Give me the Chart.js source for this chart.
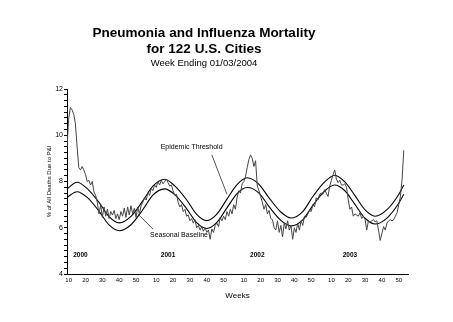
<!DOCTYPE html>
<html>
<head>
<title>Pneumonia and Influenza Mortality</title>
<script src="https://cdn.jsdelivr.net/npm/chart.js"></script>
<style>
  body { margin: 0; background: #fff; }
</style>
</head>
<body>
<canvas id="pniChart" width="453" height="322"></canvas>
<script>
// weekly % of deaths due to P&I, first point is week 9 of 2000
const firstWeek = 9;
const pniPercent = [
  9.5, 10.7, 11.2, 11.1, 10.9, 10.5, 9.5, 8.6, 8.5, 8.65, 8.5, 8.3, 8.0, 8.05, 7.85, 8.0, 7.55, 7.4,
  7.1, 6.6, 7.0, 6.45, 6.9, 6.5, 6.8, 6.4, 6.7, 6.55, 6.75, 6.4, 6.6, 6.35, 6.7, 6.5, 6.85, 6.45,
  6.9, 6.55, 6.95, 6.6, 6.85, 6.45, 6.9, 6.6,
  6.95, 7.1, 7.3, 7.2, 7.5, 7.4, 7.7, 7.6, 7.85, 7.75, 8.0, 7.85, 8.05, 7.9, 8.0, 8.1, 7.95, 7.8,
  7.85, 7.6, 7.4, 7.45, 7.1, 6.9, 7.0, 6.7, 6.8, 6.5, 6.55, 6.3, 6.4, 6.2, 6.35, 6.0, 6.1, 5.9,
  6.05, 5.85, 6.0, 5.8, 5.9, 5.5, 5.95, 5.8, 6.1, 6.2, 6.05, 6.45, 6.3, 6.5, 6.35, 6.7, 6.5, 6.8,
  6.6, 7.0, 6.8, 7.3, 7.6, 7.5, 7.9, 8.0, 8.2, 8.6, 8.95, 9.15, 9.0, 8.65, 8.9, 7.8, 7.6, 7.35,
  7.1, 6.8, 7.0, 6.6, 6.75, 6.4, 6.35, 6.0, 5.9, 6.3, 5.8, 6.1, 5.6, 6.2, 5.95, 6.3, 5.9, 6.1,
  5.5, 6.0, 5.8, 6.2, 5.9, 6.3, 6.1, 6.5, 6.45, 6.6, 6.75, 6.7, 7.0, 6.9, 7.3, 7.2, 7.45, 7.5,
  7.45, 7.65, 7.5, 7.35, 7.8, 8.05, 8.3, 8.5, 8.1, 7.95, 8.05, 7.85, 7.85, 7.9, 7.75, 7.2, 6.8, 6.9,
  6.5, 6.6, 6.55, 6.5, 6.65, 6.4, 6.5, 6.35, 5.9, 6.3, 6.25, 6.3, 6.35, 6.25, 6.3, 5.9, 5.45, 5.75,
  6.05, 5.9, 6.2, 6.3, 6.35, 6.3, 6.35, 6.5, 6.65, 7.0, 7.35, 8.1, 9.35
];

// seasonal baseline and epidemic threshold, read at these weeks
const curveWeeks = [9, 15, 21, 28, 34, 40, 47, 54, 60, 67, 73, 80, 86, 92, 98, 104, 110, 116,
  123, 129, 136, 142, 149, 155, 162, 168, 174, 180, 186, 192, 199, 206, 209];
const baselinePct = [7.32, 7.56, 7.31, 6.72, 6.12, 5.87, 6.13, 6.78, 7.41, 7.68, 7.43, 6.83, 6.22,
  5.97, 6.23, 6.86, 7.48, 7.74, 7.50, 6.91, 6.32, 6.08, 6.34, 6.97, 7.59, 7.85, 7.60, 7.01, 6.41,
  6.16, 6.42, 7.06, 7.45];
const thresholdPct = [7.68, 7.97, 7.69, 7.10, 6.48, 6.21, 6.49, 7.16, 7.80, 8.10, 7.81, 7.21, 6.58,
  6.31, 6.59, 7.24, 7.87, 8.16, 7.88, 7.29, 6.68, 6.42, 6.70, 7.35, 7.98, 8.27, 7.98, 7.39, 6.77,
  6.50, 6.78, 7.44, 7.85];

const years = ['2000', '2001', '2002', '2003'];
const yearLabelWeeks = [17, 69, 122, 177];
const weekTicks = [10, 20, 30, 40, 50];
const weeksPerYear = 52;
const yTicks = [4, 6, 8, 10, 12];

const tickWeeks = [];
const tickText = {};
years.forEach((yr, i) => {
    weekTicks.forEach(w => {
        tickWeeks.push(i * weeksPerYear + w);
        tickText[i * weeksPerYear + w] = String(w);
    });
});

const FONT = '"Liberation Sans", Arial, sans-serif';

const callouts = [
    { text: 'Epidemic Threshold', at: [83, 9.5], from: [95, 9.15], to: [104, 7.45] },
    { text: 'Seasonal Baseline', at: [75.5, 5.69], from: [60, 5.95], to: [51, 6.6] }
];

const notesPlugin = {
    id: 'notes',
    afterDatasetsDraw(chart) {
        const { ctx, scales: { x, y } } = chart;
        ctx.save();
        ctx.fillStyle = '#000';
        ctx.textAlign = 'center';
        ctx.textBaseline = 'middle';
        ctx.font = 'bold 6.5px ' + FONT;
        years.forEach((yr, i) => {
            ctx.fillText(yr, x.getPixelForValue(yearLabelWeeks[i]), y.getPixelForValue(4.82));
        });
        ctx.font = '7px ' + FONT;
        callouts.forEach(c => {
            ctx.strokeStyle = '#555';
            ctx.lineWidth = 1;
            ctx.beginPath();
            ctx.moveTo(x.getPixelForValue(c.from[0]), y.getPixelForValue(c.from[1]));
            ctx.lineTo(x.getPixelForValue(c.to[0]), y.getPixelForValue(c.to[1]));
            ctx.stroke();
            ctx.fillText(c.text, x.getPixelForValue(c.at[0]), y.getPixelForValue(c.at[1]));
        });
        ctx.restore();
    }
};

const ctx = document.getElementById('pniChart').getContext('2d');
new Chart(ctx, {
    type: 'line',
    data: {
        datasets: [
            {
                label: 'P&I',
                data: pniPercent.map((v, i) => ({ x: firstWeek + i, y: v })),
                borderColor: '#444',
                borderWidth: 1,
                pointRadius: 0,
                tension: 0
            },
            {
                label: 'Epidemic Threshold',
                data: curveWeeks.map((w, i) => ({ x: w, y: thresholdPct[i] })),
                borderColor: '#000',
                borderWidth: 1.1,
                pointRadius: 0,
                cubicInterpolationMode: 'monotone'
            },
            {
                label: 'Seasonal Baseline',
                data: curveWeeks.map((w, i) => ({ x: w, y: baselinePct[i] })),
                borderColor: '#000',
                borderWidth: 1.1,
                pointRadius: 0,
                cubicInterpolationMode: 'monotone'
            }
        ]
    },
    options: {
        responsive: false,
        animation: false,
        devicePixelRatio: 1,
        layout: { padding: { top: 25, right: 45, bottom: 0, left: 0 } },
        plugins: {
            legend: { display: false },
            tooltip: { enabled: false },
            title: {
                display: true,
                text: ['Pneumonia and Influenza Mortality', 'for 122 U.S. Cities'],
                color: '#000',
                font: { family: FONT, size: 13.5, weight: 'bold', lineHeight: '16px' },
                padding: { top: 0, bottom: 0 }
            },
            subtitle: {
                display: true,
                text: 'Week Ending 01/03/2004',
                color: '#000',
                font: { family: FONT, size: 9.5, lineHeight: '12px' },
                padding: { top: 0, bottom: 20 }
            }
        },
        scales: {
            x: {
                type: 'linear',
                min: 9,
                max: 211.5,
                afterBuildTicks: axis => { axis.ticks = tickWeeks.map(v => ({ value: v })); },
                afterFit: axis => { axis.height = 48; },
                grid: { drawOnChartArea: false, drawTicks: false },
                border: { color: '#000', width: 1 },
                ticks: {
                    color: '#000',
                    font: { family: FONT, size: 6 },
                    padding: 3,
                    maxRotation: 0,
                    autoSkip: false,
                    callback: v => tickText[v]
                },
                title: {
                    display: true,
                    text: 'Weeks',
                    color: '#000',
                    font: { family: FONT, size: 8 },
                    padding: { top: 0, bottom: 21 }
                }
            },
            y: {
                min: 4,
                max: 12,
                afterFit: axis => { axis.width = 67; },
                ticks: {
                    stepSize: 0.25,
                    autoSkip: false,
                    color: '#000',
                    font: { family: FONT, size: 7 },
                    padding: 1,
                    callback: v => (yTicks.includes(v) ? String(v) : '')
                },
                grid: { drawOnChartArea: false, tickLength: 3, tickColor: '#000' },
                border: { color: '#000', width: 1 },
                title: {
                    display: true,
                    text: '% of All Deaths Due to P&I',
                    color: '#000',
                    font: { family: FONT, size: 6 },
                    padding: { top: 46, bottom: 0 }
                }
            }
        }
    },
    plugins: [notesPlugin]
});
</script>
</body>
</html>
